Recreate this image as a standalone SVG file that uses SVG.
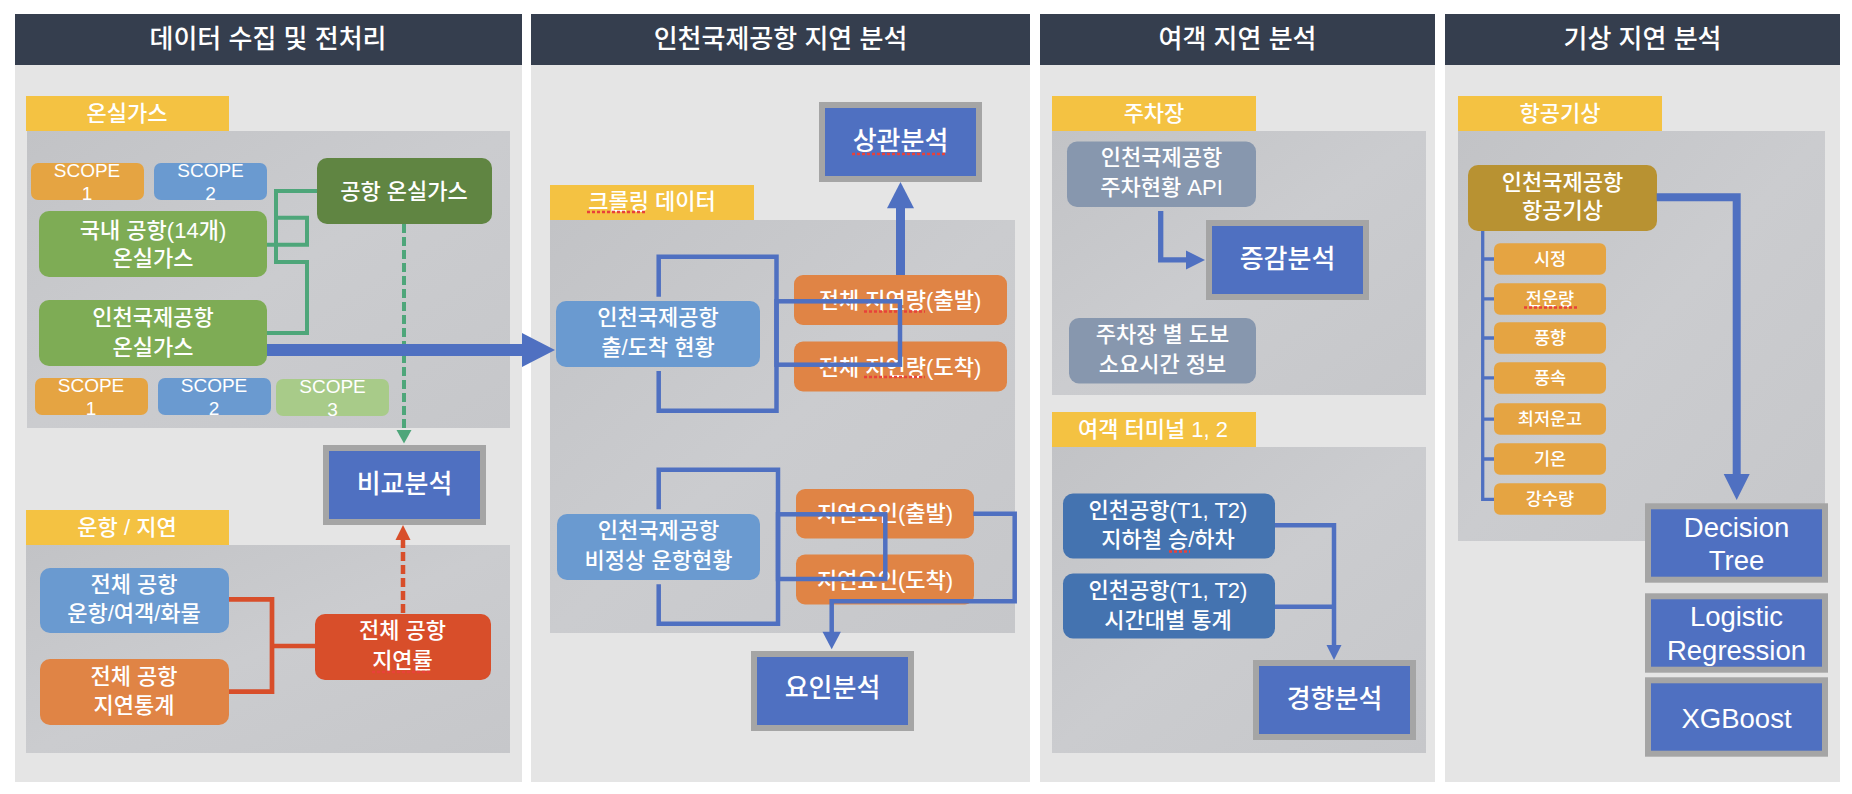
<svg xmlns="http://www.w3.org/2000/svg" width="1852" height="794" viewBox="0 0 1852 794">
<defs>
<linearGradient id="tex" x1="0" y1="0" x2="1" y2="1">
<stop offset="0" stop-color="#c2c3c6"/>
<stop offset="0.5" stop-color="#cbcccf"/>
<stop offset="1" stop-color="#c6c7ca"/>
</linearGradient>
<style>
.hdr{fill:#353e4e}
.panel{fill:#e5e5e5}
.lbl{fill:#f4c242}
.area{fill:url(#tex)}
.ana{fill:#4f70c1;stroke:#a5a5a5;stroke-width:6}
.or1{fill:#e5a442}
.or2{fill:#e08445}
.bl1{fill:#6a9ad0}
.gr1{fill:#7eac55}
.sl{fill:#8797ae}
.db{fill:#4473b0}
text{font-family:'Liberation Sans','Noto Sans CJK KR',sans-serif;font-weight:500;fill:#ffffff;text-anchor:middle;dominant-baseline:central}
.h{font-size:26px}
.l{font-size:22px}
.b{font-size:22px}
.s{font-size:19px}
.a{font-size:26px}
.i{font-size:17.5px}
.m{font-size:27.5px}
.gl{fill:none;stroke:#4ea67a;stroke-width:4}
.bll{fill:none;stroke:#4f70c1;stroke-width:4.5}
.rl{fill:none;stroke:#d84e2a;stroke-width:4.7}
.sp{fill:none;stroke:#e8413a;stroke-width:2.5;stroke-dasharray:3 2}
</style>
</defs>
<rect width="1852" height="794" fill="#ffffff"/>

<!-- Panel 1 -->
<g id="panel1">
<rect class="panel" x="15" y="65" width="507" height="717"/>
<rect class="hdr" x="15" y="14" width="507" height="51"/>
<text class="h" x="268" y="39">데이터 수집 및 전처리</text>
<rect class="area" x="27" y="131" width="483" height="297"/>
<rect class="area" x="26" y="545" width="484" height="208"/>
</g>
<g id="lbl-ghg"><rect class="lbl" x="26" y="96" width="203" height="35"/><text class="l" x="127" y="113">온실가스</text></g>
<g id="lbl-ops"><rect class="lbl" x="26" y="510" width="203" height="35"/><text class="l" x="127" y="527">운항 / 지연</text></g>

<!-- Panel 2 -->
<g id="panel2">
<rect class="panel" x="531" y="65" width="499" height="717"/>
<rect class="hdr" x="531" y="14" width="499" height="51"/>
<text class="h" x="780.5" y="39">인천국제공항 지연 분석</text>
<rect class="area" x="550" y="220" width="465" height="413"/>
</g>
<g id="lbl-crawl"><rect class="lbl" x="550" y="185" width="204" height="35"/><text class="l" x="652" y="201">크롤링 데이터</text><path class="sp" d="M587,212 H647"/></g>

<!-- Panel 3 -->
<g id="panel3">
<rect class="panel" x="1040" y="65" width="395" height="717"/>
<rect class="hdr" x="1040" y="14" width="395" height="51"/>
<text class="h" x="1237.5" y="39">여객 지연 분석</text>
<rect class="area" x="1052" y="131" width="374" height="264"/>
<rect class="area" x="1052" y="447" width="374" height="306"/>
</g>
<g id="lbl-park"><rect class="lbl" x="1052" y="96" width="204" height="35"/><text class="l" x="1154" y="113">주차장</text></g>
<g id="lbl-term"><rect class="lbl" x="1052" y="412" width="204" height="35"/><text class="l" x="1153" y="429.5">여객 터미널 1, 2</text></g>

<!-- Panel 4 -->
<g id="panel4">
<rect class="panel" x="1445" y="65" width="395" height="717"/>
<rect class="hdr" x="1445" y="14" width="395" height="51"/>
<text class="h" x="1642.5" y="39">기상 지연 분석</text>
<rect class="area" x="1458" y="131" width="367" height="410"/>
</g>
<g id="lbl-wx"><rect class="lbl" x="1458" y="96" width="204" height="35"/><text class="l" x="1560" y="113">항공기상</text></g>

<!-- Panel 1 nodes -->
<g id="scope1a"><rect class="or1" x="31" y="163" width="113" height="37" rx="7"/><text class="s" x="87" y="170">SCOPE</text><text class="s" x="87" y="193">1</text></g>
<g id="scope2a"><rect class="bl1" x="154" y="163" width="113" height="37" rx="7"/><text class="s" x="210.5" y="170">SCOPE</text><text class="s" x="210.5" y="193">2</text></g>
<g id="domestic"><rect class="gr1" x="39" y="211" width="228" height="66" rx="10"/><text class="b" x="153" y="230">국내 공항(14개)</text><text class="b" x="153" y="258">온실가스</text></g>
<g id="icn-ghg"><rect class="gr1" x="39" y="300" width="228" height="66" rx="10"/><text class="b" x="153" y="317">인천국제공항</text><text class="b" x="153" y="347">온실가스</text></g>
<g id="scope1b"><rect class="or1" x="35" y="378" width="113" height="37" rx="7"/><text class="s" x="91" y="385">SCOPE</text><text class="s" x="91" y="408">1</text></g>
<g id="scope2b"><rect class="bl1" x="158" y="378" width="113" height="37" rx="7"/><text class="s" x="214" y="385">SCOPE</text><text class="s" x="214" y="408">2</text></g>
<g id="scope3"><rect fill="#a8cb89" x="276" y="379" width="113" height="37" rx="7"/><text class="s" x="332.5" y="386">SCOPE</text><text class="s" x="332.5" y="409">3</text></g>
<g id="airport-ghg"><rect fill="#608542" x="317" y="158" width="175" height="66" rx="10"/><text class="b" x="404" y="191">공항 온실가스</text></g>
<g id="compare"><rect class="ana" x="326" y="448" width="157" height="74"/><text class="a" x="404.5" y="484">비교분석</text></g>
<g id="ops"><rect class="bl1" x="40" y="568" width="189" height="65" rx="10"/><text class="b" x="134" y="584">전체 공항</text><text class="b" x="134" y="613">운항/여객/화물</text></g>
<g id="delay-stat"><rect class="or2" x="40" y="659" width="189" height="66" rx="10"/><text class="b" x="134" y="676">전체 공항</text><text class="b" x="134" y="705">지연통계</text></g>
<g id="delay-rate"><rect fill="#d84e2a" x="315" y="614" width="176" height="66" rx="10"/><text class="b" x="402.5" y="630">전체 공항</text><text class="b" x="402.5" y="660">지연률</text><path class="sp" d="M372,672 H432"/></g>

<!-- Panel 2 nodes -->
<g id="corr"><rect class="ana" x="822" y="105" width="157" height="74"/><text class="a" x="900.5" y="141">상관분석</text><path class="sp" d="M852,154 H945"/></g>
<g id="icn-arr"><rect class="bl1" x="556" y="301" width="204" height="66" rx="10"/><text class="b" x="658" y="317">인천국제공항</text><text class="b" x="658" y="347">출/도착 현황</text></g>
<g id="delay-dep"><rect class="or2" x="794" y="275" width="213" height="50" rx="9"/><text class="b" x="900" y="300">전체 지연량(출발)</text><path class="sp" d="M864,311.5 H925"/></g>
<g id="delay-arr"><rect class="or2" x="794" y="341.5" width="213" height="50" rx="9"/><text class="b" x="900" y="367">전체 지연량(도착)</text><path class="sp" d="M864,377 H925"/></g>
<g id="icn-abn"><rect class="bl1" x="557" y="514" width="203" height="66" rx="10"/><text class="b" x="658.5" y="530">인천국제공항</text><text class="b" x="658.5" y="560">비정상 운항현황</text></g>
<g id="factor-dep"><rect class="or2" x="796" y="489" width="178" height="49.5" rx="9"/><text class="b" x="885" y="513.5">지연요인(출발)</text></g>
<g id="factor-arr"><rect class="or2" x="796" y="554.5" width="178" height="50" rx="9"/><text class="b" x="885" y="580">지연요인(도착)</text></g>
<g id="factor"><rect class="ana" x="754" y="654" width="157" height="74"/><text class="a" x="832.5" y="688">요인분석</text></g>

<!-- Panel 3 nodes -->
<g id="park-api"><rect class="sl" x="1067" y="141.5" width="189" height="65.5" rx="10"/><text class="b" x="1161.5" y="157">인천국제공항</text><text class="b" x="1161.5" y="187">주차현황 API</text></g>
<g id="incdec"><rect class="ana" x="1209" y="223" width="157" height="74"/><text class="a" x="1287.5" y="259">증감분석</text></g>
<g id="walk"><rect class="sl" x="1069" y="318" width="187" height="65.5" rx="10"/><text class="b" x="1162.5" y="334">주차장 별 도보</text><text class="b" x="1162.5" y="364">소요시간 정보</text></g>
<g id="subway"><rect class="db" x="1063" y="493.5" width="212" height="65" rx="10"/><text class="b" x="1168" y="510">인천공항(T1, T2)</text><text class="b" x="1168" y="539">지하철 승/하차</text><path class="sp" d="M1169,551.5 H1190"/></g>
<g id="hourly"><rect class="db" x="1063" y="573.5" width="212" height="65" rx="10"/><text class="b" x="1168" y="590">인천공항(T1, T2)</text><text class="b" x="1168" y="620">시간대별 통계</text></g>
<g id="trend"><rect class="ana" x="1256" y="663" width="157" height="74"/><text class="a" x="1334.5" y="698.5">경향분석</text></g>

<!-- Panel 4 nodes -->
<g id="wx"><rect fill="#b89232" x="1468" y="165" width="189" height="66" rx="10"/><text class="b" x="1562.5" y="182">인천국제공항</text><text class="b" x="1562.5" y="210.5">항공기상</text></g>
<g id="vis"><rect class="or1" x="1494" y="243.3" width="112" height="31.5" rx="6"/><text class="i" x="1550" y="259">시정</text></g>
<g id="cloud"><rect class="or1" x="1494" y="283.3" width="112" height="31.5" rx="6"/><text class="i" x="1550" y="299">전운량</text><path class="sp" d="M1524,307.5 H1577"/></g>
<g id="wdir"><rect class="or1" x="1494" y="322.3" width="112" height="31.5" rx="6"/><text class="i" x="1550" y="338">풍향</text></g>
<g id="wspd"><rect class="or1" x="1494" y="362.3" width="112" height="31.5" rx="6"/><text class="i" x="1550" y="378">풍속</text></g>
<g id="ceil"><rect class="or1" x="1494" y="403.3" width="112" height="31.5" rx="6"/><text class="i" x="1550" y="419">최저운고</text></g>
<g id="temp"><rect class="or1" x="1494" y="443.3" width="112" height="31.5" rx="6"/><text class="i" x="1550" y="459">기온</text></g>
<g id="rain"><rect class="or1" x="1494" y="483.3" width="112" height="31.5" rx="6"/><text class="i" x="1550" y="499">강수량</text></g>
<g id="dt"><rect class="ana" x="1648" y="506.3" width="177" height="73.4"/><text class="m" x="1736.5" y="527">Decision</text><text class="m" x="1736.5" y="560">Tree</text></g>
<g id="lr"><rect class="ana" x="1648" y="596.3" width="177" height="73.4"/><text class="m" x="1736.5" y="616">Logistic</text><text class="m" x="1736.5" y="650">Regression</text></g>
<g id="xgb"><rect class="ana" x="1648" y="680.3" width="177" height="73.4"/><text class="m" x="1736.5" y="718.3">XGBoost</text></g>

<!-- Connectors -->
<g id="connectors">
<path class="gl" d="M317,191 H276 V262 H307 V333 H267"/>
<path class="gl" d="M276,217.7 H307 V244.7 H267"/>
<path d="M404,224 V430" fill="none" stroke="#4ea67a" stroke-width="4" stroke-dasharray="9 4"/>
<polygon points="396.5,430 411.5,430 404,443.5" fill="#4ea67a"/>
<path d="M267,350 H523" fill="none" stroke="#4f70c1" stroke-width="12"/>
<polygon points="522,333 522,367 555,350" fill="#4f70c1"/>
<path class="rl" d="M229,599.3 H272 V691.7 H229"/>
<path class="rl" d="M272,646 H315"/>
<path d="M403,613 V540" fill="none" stroke="#d84e2a" stroke-width="4.5" stroke-dasharray="9 4"/>
<polygon points="395.5,540 410.5,540 403,525" fill="#d84e2a"/>

<path class="bll" d="M658.7,296.7 V256.7 H776.5 V410.7 H658.7 V371"/>
<rect class="bll" x="776.5" y="301.3" width="123.5" height="63.4"/>
<path d="M900.5,275 V207" fill="none" stroke="#4f70c1" stroke-width="9"/>
<polygon points="887,208.3 914,208.3 900.5,182" fill="#4f70c1"/>
<path class="bll" d="M658.7,509.3 V469.7 H778 V623.7 H658.7 V584.3"/>
<rect class="bll" x="778" y="514.3" width="107.3" height="64.7"/>
<path class="bll" d="M973.3,513.7 H1014.7 V601.3 H831.7 V632"/>
<polygon points="822.5,631.7 840.9,631.7 831.7,649.3" fill="#4f70c1"/>

<path d="M1160.7,211 V259.8 H1187" fill="none" stroke="#4f70c1" stroke-width="5.3"/>
<polygon points="1186,250.5 1186,269.5 1205,260" fill="#4f70c1"/>
<path class="bll" d="M1275,525.3 H1334 V646"/>
<path class="bll" d="M1275,606.7 H1334"/>
<polygon points="1326.5,645 1341.5,645 1334,660" fill="#4f70c1"/>

<path d="M1482.7,231 V499.3 H1494 M1482.7,259 H1494 M1482.7,298.8 H1494 M1482.7,338 H1494 M1482.7,377.8 H1494 M1482.7,419.2 H1494 M1482.7,459 H1494" fill="none" stroke="#4f70c1" stroke-width="3.3"/>
<path d="M1656.7,197.2 H1736.7 V475" fill="none" stroke="#4f70c1" stroke-width="8"/>
<polygon points="1723.7,474 1749.7,474 1736.7,500" fill="#4f70c1"/>
</g>
</svg>
